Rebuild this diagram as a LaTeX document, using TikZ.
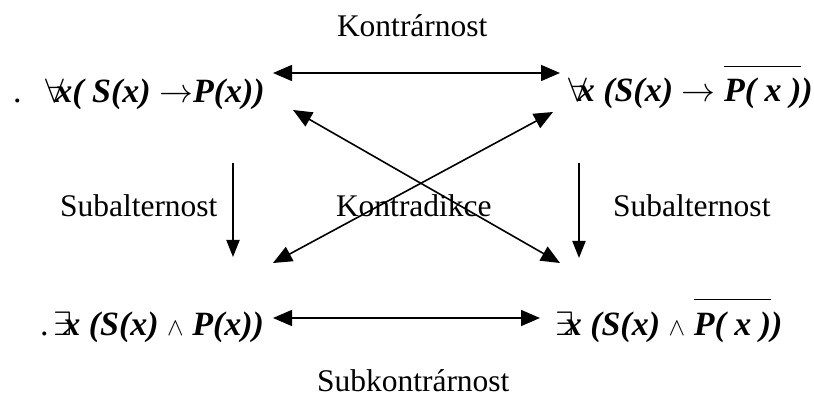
\documentclass[tikz,border=0pt]{standalone}
\usepackage{fontspec}
\setmainfont{Liberation Serif}
\usetikzlibrary{arrows.meta}
% bold italic formula text, enlarged math symbols, and an overline drawn above a piece of text
\newcommand{\fb}[1]{\textbf{\textit{#1}}}
\newcommand{\msym}[1]{\scalebox{1.36}{$#1$}}
\newcommand{\ovbar}[1]{\vbox{\hrule height 1.3pt\kern 11pt\hbox{#1}}}
\begin{document}
\begin{tikzpicture}[x=1pt,y=-1pt,
  every node/.style={inner sep=0pt,outer sep=0pt,font=\fontsize{31.5}{36}\selectfont},
  lbl/.style={anchor=base west},
  frm/.style={anchor=base west,font=\fontsize{34}{40}\selectfont},
  dbl/.style={line width=1.6pt,{Triangle[length=19pt,width=16pt]}-{Triangle[length=19pt,width=16pt]}},
  down/.style={line width=2pt,-{Triangle[length=17pt,width=13pt]}}]
\useasboundingbox (0,0) rectangle (814,398);

% formulas at the four corners
\node[frm] (tl) at (13,103) {.\hspace{24pt}\msym{\forall}\kern-9pt\fb{x( S(x) }\msym{\rightarrow}\fb{P(x))}};
\node[frm] (tr) at (568,102) {\msym{\forall}\kern-9pt\fb{x (S(x) }\msym{\rightarrow} \ovbar{\fb{P( x )}}\fb{)}};
\node[frm] (bl) at (40,335) {.\hspace{5pt}\msym{\exists}\kern-9pt\fb{x (S(x) }$\wedge$ \fb{P(x))}};
\node[frm] (br) at (555,335) {\msym{\exists}\kern-9pt\fb{x (S(x) }$\wedge$ \ovbar{\fb{P( x )}}\fb{)}};

% relation names
\node[lbl] (kontrar) at (337,37) {Kontrárnost};
\node[lbl] (subL) at (60,217) {Subalternost};
\node[lbl] (subR) at (613,217) {Subalternost};
\node[lbl] (kontrad) at (336,217) {Kontradikce};
\node[lbl] (subkon) at (317,391) {Subkontrárnost};

% arrow end points
\coordinate (t1) at (273,73);
\coordinate (t2) at (560,73);
\coordinate (b1) at (273,318);
\coordinate (b2) at (540,318);
\coordinate (d1) at (293,110);
\coordinate (d2) at (560,263);
\coordinate (e1) at (273,263);
\coordinate (e2) at (553,112);
\coordinate (vl1) at (233,163);
\coordinate (vl2) at (233,257);
\coordinate (vr1) at (579,163);
\coordinate (vr2) at (579,258);

\draw[dbl] (t1) -- (t2);
\draw[dbl] (b1) -- (b2);
\draw[dbl] (d1) -- (d2);
\draw[dbl] (e1) -- (e2);
\draw[down] (vl1) -- (vl2);
\draw[down] (vr1) -- (vr2);
\end{tikzpicture}
\end{document}
